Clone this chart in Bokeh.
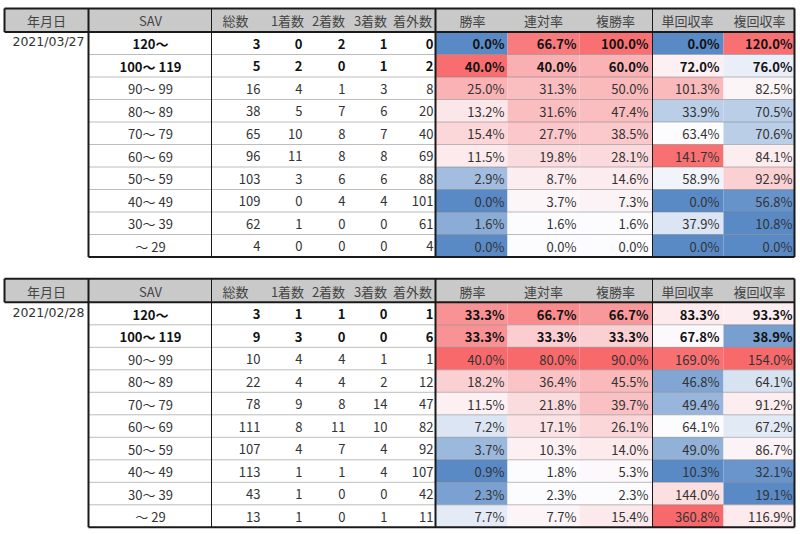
from bokeh.plotting import figure
from bokeh.models import Range1d, ColumnDataSource
from bokeh.core.properties import value
from bokeh.embed import file_html
from bokeh.resources import INLINE

# ---------------- data ----------------
headers = ["年月日", "SAV", "総数", "1着数", "2着数", "3着数", "着外数",
           "勝率", "連対率", "複勝率", "単回収率", "複回収率"]
dates = ["2021/03/27", "2021/02/28"]
sav_labels = ["120～", "100～ 119", "90～ 99", "80～ 89", "70～ 79",
              "60～ 69", "50～ 59", "40～ 49", "30～ 39", "～ 29"]

# table 1 : 2021/03/27
total1 = [3, 5, 16, 38, 65, 96, 103, 109, 62, 4]
first1 = [0, 2, 4, 5, 10, 11, 3, 0, 1, 0]
second1 = [2, 0, 1, 7, 8, 8, 6, 4, 0, 0]
third1 = [1, 1, 3, 6, 7, 8, 6, 4, 0, 0]
out1 = [0, 2, 8, 20, 40, 69, 88, 101, 61, 4]
win1 = [0.0, 40.0, 25.0, 13.2, 15.4, 11.5, 2.9, 0.0, 1.6, 0.0]
quin1 = [66.7, 40.0, 31.3, 31.6, 27.7, 19.8, 8.7, 3.7, 1.6, 0.0]
show1 = [100.0, 60.0, 50.0, 47.4, 38.5, 28.1, 14.6, 7.3, 1.6, 0.0]
tan1 = [0.0, 72.0, 101.3, 33.9, 63.4, 141.7, 58.9, 0.0, 37.9, 0.0]
fuku1 = [120.0, 76.0, 82.5, 70.5, 70.6, 84.1, 92.9, 56.8, 10.8, 0.0]

# table 2 : 2021/02/28
total2 = [3, 9, 10, 22, 78, 111, 107, 113, 43, 13]
first2 = [1, 3, 4, 4, 9, 8, 4, 1, 1, 1]
second2 = [1, 0, 4, 4, 8, 11, 7, 1, 0, 0]
third2 = [0, 0, 1, 2, 14, 10, 4, 4, 0, 1]
out2 = [1, 6, 1, 12, 47, 82, 92, 107, 42, 11]
win2 = [33.3, 33.3, 40.0, 18.2, 11.5, 7.2, 3.7, 0.9, 2.3, 7.7]
quin2 = [66.7, 33.3, 80.0, 36.4, 21.8, 17.1, 10.3, 1.8, 2.3, 7.7]
show2 = [66.7, 33.3, 90.0, 45.5, 39.7, 26.1, 14.0, 5.3, 2.3, 15.4]
tan2 = [83.3, 67.8, 169.0, 46.8, 49.4, 64.1, 49.0, 10.3, 144.0, 360.8]
fuku2 = [93.3, 38.9, 154.0, 64.1, 91.2, 67.2, 86.7, 32.1, 19.1, 116.9]

# ---------------- styles (colour-scale shading) ----------------
# signed intensity: negative = blue, positive = red
shade1 = [
    [-1, 0.97, 0.5, 0.15, 0.25, 0.12, -0.55, -1, -0.7, -1],
    [0.88, 0.52, 0.42, 0.42, 0.36, 0.22, 0.1, 0.04, 0.0, 0.0],
    [0.95, 0.5, 0.45, 0.42, 0.35, 0.23, 0.11, 0.06, 0.0, 0.0],
    [-1, 0.08, 0.45, -0.4, 0.0, 0.95, -0.07, -1, -0.2, -1],
    [0.95, -0.12, 0.05, -0.4, -0.4, 0.1, 0.3, -0.92, -1, -1],
]
shade2 = [
    [0.72, 0.72, 1.0, 0.3, 0.08, -0.2, -0.6, -1, -0.8, -0.15],
    [0.77, 0.32, 1.0, 0.38, 0.22, 0.17, 0.08, 0.0, 0.0, 0.05],
    [0.68, 0.3, 1.0, 0.45, 0.4, 0.25, 0.12, 0.03, 0.0, 0.13],
    [0.12, 0.02, 0.95, -0.75, -0.62, 0.0, -0.66, -1, 0.2, 1.0],
    [0.1, -0.82, 1.0, -0.22, 0.1, -0.16, 0.06, -0.9, -1, 0.12],
]

WHITE = (252, 252, 255)
RED = (248, 105, 107)
BLUE = (90, 138, 198)


def shade_color(s):
    tgt = RED if s >= 0 else BLUE
    a = min(abs(s), 1.0)
    c = [round(w + (t - w) * a) for w, t in zip(WHITE, tgt)]
    return "#%02x%02x%02x" % tuple(c)


tables = [
    dict(date=dates[0], counts=[total1, first1, second1, third1, out1],
         rates=[win1, quin1, show1, tan1, fuku1], shades=shade1),
    dict(date=dates[1], counts=[total2, first2, second2, third2, out2],
         rates=[win2, quin2, show2, tan2, fuku2], shades=shade2),
]

# ---------------- layout ----------------
X_LEFT, X_RIGHT = 4, 794
X_DATE_EDGE, X_SAV_EDGE, X_COUNT_EDGE, X_RATE_MID = 88, 211, 435, 652
X_DATE_R = 84
X_SAV_C = 150
X_COUNT_R = [260, 302, 345, 387, 433]
RATE_EDGES = [435, 507, 579, 652, 723, 794]
X_RATE_R = [504, 576, 648, 719, 792]
HEADER_X = [46, 150, 235, 287, 328, 370, 412, 472, 543, 615, 687, 759]
TABLE_TOP = [8, 278.3]
HEADER_H = 23.5
ROW_H = 22.5
FONT = value("Noto Sans CJK JP")
DATE_FONT = value("DejaVu Sans")
FSIZE = "13px"

p = figure(width=800, height=534, output_backend="svg", toolbar_location=None,
           x_range=Range1d(0, 800), y_range=Range1d(534, 0),
           x_axis_type=None, y_axis_type=None, min_border=0,
           outline_line_color=None, background_fill_color="white",
           border_fill_color="white")
p.grid.visible = False

hdr_quads = dict(left=[], right=[], top=[], bottom=[])
cell_quads = dict(left=[], right=[], top=[], bottom=[], color=[])
texts = {k: dict(x=[], y=[], text=[]) for k in
         ["hdr", "date", "sav_n", "sav_b", "cnt_n", "cnt_b", "rate_n", "rate_b"]}
thick = dict(x0=[], y0=[], x1=[], y1=[])
thin = dict(x0=[], y0=[], x1=[], y1=[])
dots = dict(x0=[], y0=[], x1=[], y1=[])


def seg(d, x0, y0, x1, y1):
    d["x0"].append(x0); d["y0"].append(y0); d["x1"].append(x1); d["y1"].append(y1)


def add_text(key, x, y, t):
    texts[key]["x"].append(x); texts[key]["y"].append(y); texts[key]["text"].append(t)


for tb, T in zip(tables, TABLE_TOP):
    body_top = T + HEADER_H
    n = len(sav_labels)
    B = body_top + n * ROW_H
    hdr_quads["left"].append(X_LEFT); hdr_quads["right"].append(X_RIGHT)
    hdr_quads["top"].append(T); hdr_quads["bottom"].append(body_top)
    for hx, h in zip(HEADER_X, headers):
        add_text("hdr", hx, T + HEADER_H / 2 + 0.5, h)
    add_text("date", X_DATE_R, body_top + ROW_H / 2 - 1.5, tb["date"])
    for i in range(n):
        yt = body_top + i * ROW_H
        yc = yt + ROW_H / 2 + 0.5
        w = "b" if i < 2 else "n"
        add_text("sav_" + w, X_SAV_C, yc, sav_labels[i])
        for j, col in enumerate(tb["counts"]):
            add_text("cnt_" + w, X_COUNT_R[j], yc, str(col[i]))
        for j, col in enumerate(tb["rates"]):
            cell_quads["left"].append(RATE_EDGES[j]); cell_quads["right"].append(RATE_EDGES[j + 1])
            cell_quads["top"].append(yt); cell_quads["bottom"].append(yt + ROW_H)
            cell_quads["color"].append(shade_color(tb["shades"][j][i]))
            add_text("rate_" + w, X_RATE_R[j], yc, f"{col[i]:.1f}%")
        if i > 0:
            seg(dots, X_DATE_EDGE, yt, X_RIGHT, yt)
    seg(thick, X_LEFT, T, X_RIGHT, T)
    seg(thick, X_LEFT, body_top, X_RIGHT, body_top)
    seg(thick, X_LEFT, T, X_LEFT, body_top)
    seg(thick, X_RIGHT, T, X_RIGHT, B)
    seg(thick, X_DATE_EDGE, T, X_DATE_EDGE, B)
    seg(thick, X_COUNT_EDGE, T, X_COUNT_EDGE, B)
    seg(thick, X_DATE_EDGE, B, X_RIGHT, B)
    seg(thin, X_SAV_EDGE, T, X_SAV_EDGE, B)
    seg(thin, X_RATE_MID, T, X_RATE_MID, B)

p.quad(source=ColumnDataSource(hdr_quads), left="left", right="right", top="top",
       bottom="bottom", fill_color="#c9c9c9", line_color=None)
p.quad(source=ColumnDataSource(cell_quads), left="left", right="right", top="top",
       bottom="bottom", fill_color="color", line_color=None)
p.segment(source=ColumnDataSource(dots), x0="x0", y0="y0", x1="x1", y1="y1",
          line_color="#7a7a7a", line_width=1, line_dash="1 1")
p.segment(source=ColumnDataSource(thin), x0="x0", y0="y0", x1="x1", y1="y1",
          line_color="#1a1a1a", line_width=1)
p.segment(source=ColumnDataSource(thick), x0="x0", y0="y0", x1="x1", y1="y1",
          line_color="#1a1a1a", line_width=2)


def draw(key, align, bold, color, font=FONT, size=FSIZE):
    p.text(source=ColumnDataSource(texts[key]), x="x", y="y", text="text",
           text_align=align, text_baseline="middle", text_font=font,
           text_font_size=size, text_color=color,
           text_font_style="bold" if bold else "normal")


draw("hdr", "center", False, "#444444")
draw("date", "right", False, "#333333", font=DATE_FONT, size="12.5px")
draw("sav_n", "center", False, "#333333")
draw("sav_b", "center", True, "#111111")
draw("cnt_n", "right", False, "#333333")
draw("cnt_b", "right", True, "#111111")
draw("rate_n", "right", False, "#333333")
draw("rate_b", "right", True, "#111111")

open("out.html", "w").write(file_html(p, INLINE))
